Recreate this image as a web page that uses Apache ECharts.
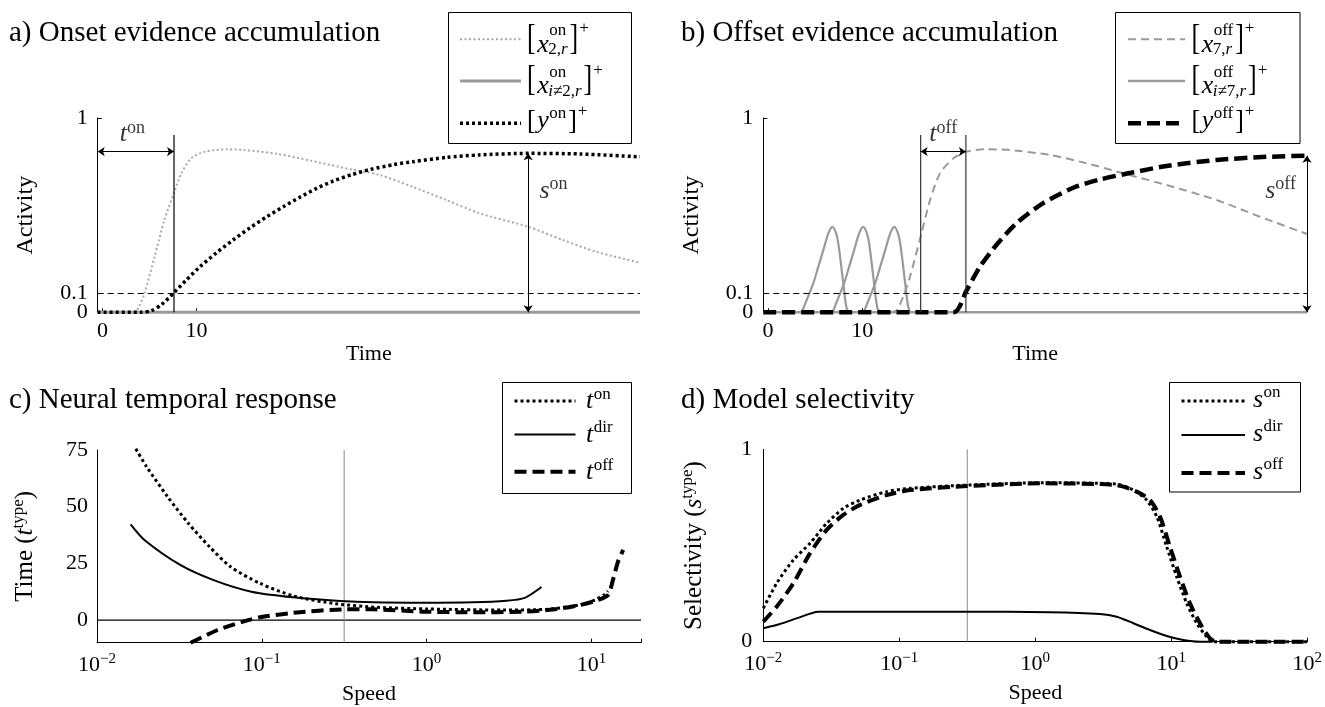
<!DOCTYPE html>
<html>
<head>
<meta charset="utf-8">
<script src="https://cdn.jsdelivr.net/npm/echarts@6.0.0/dist/echarts.min.js"></script>
<style>
html,body{margin:0;padding:0;background:#fff;}
#chart{width:1325px;height:707px;}
</style>
</head>
<body>
<div id="chart"></div>
<script>
// ================= DATA =================
// shared
const threshold = 0.1;
const timeTickValues = [0, 10];
const activityTickValues = [0, 0.1, 1];

// ---- panel a: onset evidence accumulation  [time, activity]
const onsetX2 = [[-0.5,0],[3.4,0],[4.0,0.04],[4.5,0.1],[5.55,0.286],[6.6,0.475],[7.6,0.612],[8.4,0.715],[9.45,0.793],[10.9,0.827],[13.3,0.839],[15.1,0.835],[18.7,0.815],[22.2,0.78],[26.5,0.735],[29.5,0.707],[33,0.646],[36.6,0.578],[40.1,0.51],[45.3,0.44],[49,0.372],[52.5,0.312],[57.2,0.255]];
const onsetOthers = [[-0.5,0],[57.2,0]];
const onsetY = [[-0.5,0],[4.1,0],[5.2,0.008],[6.3,0.04],[7.6,0.1],[8.9,0.165],[10.4,0.235],[12.1,0.305],[13.9,0.372],[15.7,0.435],[17.5,0.492],[19.3,0.545],[21.0,0.592],[22.8,0.638],[24.6,0.676],[26.5,0.708],[28.5,0.735],[31,0.76],[33,0.775],[36.6,0.797],[40.1,0.81],[45.3,0.818],[50.8,0.815],[57.2,0.80]];
const tOnTime = 7.62, onLineTop = 0.912, onArrowLevel = 0.827;
const sOnTime = 45.3, sOnValue = 0.818;
const onLabelPos = [3.2, 0.915];
const sOnLabelPos = [48.0, 0.625];

// ---- panel b: offset evidence accumulation  [time, activity]
const offsetX7 = [[13.0,0],[13.66,0.01],[14.0,0.04],[14.5,0.1],[15.07,0.183],[16.1,0.372],[17.2,0.578],[18.25,0.715],[19.67,0.793],[21.1,0.827],[23.2,0.839],[25.7,0.835],[29.9,0.81],[33.8,0.767],[38.1,0.71],[42.3,0.655],[47.6,0.578],[52.2,0.492],[57.2,0.403]];
const offsetOthers = [[-0.5,0],[57.2,0]];
const offsetBump1 = [[3.58,0],[4.1,0.063],[4.8,0.149],[5.34,0.235],[5.87,0.32],[6.4,0.406],[6.83,0.44],[7.2,0.41],[7.46,0.355],[7.99,0.149],[8.3,0.03],[8.52,0]];
const offsetBump2 = [[6.85,0],[7.37,0.063],[8.07,0.149],[8.61,0.235],[9.14,0.32],[9.67,0.406],[10.1,0.44],[10.47,0.41],[10.73,0.355],[11.26,0.149],[11.57,0.03],[11.79,0]];
const offsetBump3 = [[10.15,0],[10.67,0.063],[11.37,0.149],[11.91,0.235],[12.44,0.32],[12.97,0.406],[13.4,0.44],[13.77,0.41],[14.03,0.355],[14.56,0.149],[14.87,0.03],[15.09,0]];
const offsetY = [[-0.5,0],[19.7,0],[21.1,0.115],[22.5,0.235],[24.3,0.35],[26.4,0.46],[29.2,0.562],[32.4,0.641],[35.2,0.683],[38.1,0.714],[42.3,0.753],[47.6,0.784],[52.9,0.80],[57.2,0.806]];
const tOffStart = 16.2, tOffEnd = 21.0, offLineTop = 0.912, offArrowLevel = 0.827;
const sOffTime = 57.2, sOffValue = 0.806;
const offLabelPos = [18.6, 0.915];
const sOffLabelPos = [54.4, 0.625];

// ---- panel c: neural temporal response  [speed, time]
const respTon = [[0.0172,75.5],[0.0200,67.6],[0.0268,54.4],[0.0359,42.6],[0.0482,32.3],[0.0646,23.5],[0.0973,16.2],[0.156,10.6],[0.28,7.2],[0.50,5.6],[1.0,4.9],[2.92,4.4],[5.25,4.7],[7.35,5.9],[9.44,7.4],[11.9,11.0],[12.6,12.8]];
const respTdir = [[0.016,42.2],[0.0194,35.3],[0.032,24.3],[0.051,17.6],[0.0865,12.5],[0.156,10.0],[0.30,8.4],[0.474,7.8],[0.955,7.6],[1.91,7.8],[3.05,8.5],[3.94,9.8],[4.98,14.6]];
const respToff = [[0.037,-10],[0.054,-4.4],[0.0769,-0.7],[0.0973,1.2],[0.156,3.2],[0.316,4.7],[0.474,4.7],[0.955,3.7],[1.91,3.4],[3.85,3.7],[5.85,4.6],[8.49,6.6],[10.2,8.1],[12.6,11.0],[13.5,17.6],[14.5,25.7],[15.6,30.9]];
const respTicks = [0, 25, 50, 75];
const respZero = [[0.01,0],[20,0]];

// ---- panel d: model selectivity  [speed, selectivity]
const selOn = [[0.01,0.174],[0.01253,0.303],[0.01663,0.425],[0.02203,0.511],[0.02924,0.615],[0.03873,0.693],[0.0514,0.736],[0.0807,0.78],[0.120,0.797],[0.316,0.814],[1.146,0.826],[3.97,0.819],[5.26,0.788],[6.59,0.736],[7.82,0.65],[9.25,0.494],[10.96,0.338],[12.97,0.2],[15.38,0.096],[18.2,0.026],[20.37,0],[100,0]];
const selOff = [[0.01,0.104],[0.01253,0.182],[0.01663,0.303],[0.02203,0.459],[0.02924,0.581],[0.03873,0.659],[0.0514,0.711],[0.0807,0.762],[0.120,0.788],[0.316,0.809],[1.146,0.823],[3.97,0.814],[5.57,0.78],[6.97,0.736],[8.26,0.65],[9.77,0.494],[11.59,0.338],[13.71,0.2],[16.26,0.096],[19.23,0.018],[21.58,0],[100,0]];
const selDir = [[0.01,0.07],[0.01327,0.092],[0.01758,0.121],[0.0254,0.156],[0.316,0.156],[1.28,0.153],[2.99,0.144],[3.97,0.13],[5.26,0.096],[6.97,0.061],[9.25,0.03],[12.25,0.009],[16.26,0],[20,0]];
const selTicks = [0, 1];

const refSpeed = 0.316;

// ================= STYLE / HELPERS =================
const FONT = 'Liberation Serif';
const GRAY = '#9a9a9a';
const GRAY_L = '#a8a8a8';

const measure = document.createElement('canvas').getContext('2d');
function tw(s, size, italic) {
  measure.font = (italic ? 'italic ' : '') + size + 'px "' + FONT + '"';
  return measure.measureText(s).width;
}

function logLabel(v) {
  const e = Math.log10(v), r = Math.round(e);
  if (Math.abs(e - r) > 1e-6) return '';
  return '{b|10}{s|' + (r < 0 ? '\u2212' : '') + Math.abs(r) + '}';
}
const logRich = {
  b: {fontFamily: FONT, fontSize: 22, color: '#000'},
  s: {fontFamily: FONT, fontSize: 15, color: '#000', padding: [0, 0, 12, 0]}
};

function timeXAxis(grid, max) {
  return {
    gridIndex: grid, type: 'value', min: -0.5, max: max,
    axisLine: {show: false, onZero: false},
    axisTick: {show: true, inside: true, length: 4, customValues: timeTickValues, lineStyle: {color: '#000'}},
    axisLabel: {customValues: timeTickValues, fontFamily: FONT, fontSize: 22, color: '#000', margin: 8,
      showMinLabel: true, showMaxLabel: true, hideOverlap: false},
    splitLine: {show: false},
    name: 'Time', nameLocation: 'middle', nameGap: 26,
    nameTextStyle: {fontFamily: FONT, fontSize: 22, color: '#000'}
  };
}
// the 0.1 tick label sits too close to 0 for the axis' own overlap rule,
// so it is printed by the threshold line (same value, same place)
const activityAxisLabels = activityTickValues.filter(v => v !== threshold);
function activityYAxis(grid) {
  return {
    gridIndex: grid, type: 'value', min: 0, max: 1,
    axisLine: {show: true, onZero: false, lineStyle: {color: '#000', width: 1}},
    axisTick: {show: true, inside: true, length: 4, customValues: [1], lineStyle: {color: '#000'}},
    axisLabel: {customValues: activityAxisLabels, fontFamily: FONT, fontSize: 22, color: '#000', margin: 10,
      showMinLabel: true, showMaxLabel: true, hideOverlap: false},
    splitLine: {show: false},
    name: 'Activity', nameLocation: 'middle', nameGap: 60, nameRotate: 90,
    nameTextStyle: {fontFamily: FONT, fontSize: 24, color: '#000'}
  };
}
function speedXAxis(grid, max) {
  return {
    gridIndex: grid, type: 'log', logBase: 10, min: 0.01, max: max,
    axisLine: {show: true, onZero: false, lineStyle: {color: '#000', width: 1}},
    axisTick: {show: true, inside: true, length: 4, lineStyle: {color: '#000'}},
    axisLabel: {formatter: logLabel, rich: logRich, fontFamily: FONT, color: '#000', margin: 9,
      showMinLabel: true, showMaxLabel: true, hideOverlap: false},
    splitLine: {show: false}, minorTick: {show: false},
    name: 'Speed', nameLocation: 'middle', nameGap: 41,
    nameTextStyle: {fontFamily: FONT, fontSize: 22, color: '#000'}
  };
}
const nameRich = {
  n: {fontFamily: FONT, fontSize: 25, color: '#000'},
  i: {fontFamily: FONT, fontSize: 25, fontStyle: 'italic', color: '#000'},
  s: {fontFamily: FONT, fontSize: 17, color: '#000', padding: [0, 0, 13, 0]}
};
function valueYAxis(grid, min, max, ticks, name, gap, margin) {
  return {
    gridIndex: grid, type: 'value', min: min, max: max,
    axisLine: {show: true, onZero: false, lineStyle: {color: '#000', width: 1}},
    axisTick: {show: false},
    axisLabel: {customValues: ticks, fontFamily: FONT, fontSize: 22, color: '#000', margin: margin,
      showMinLabel: true, showMaxLabel: true, hideOverlap: false},
    splitLine: {show: false},
    name: name, nameLocation: 'middle', nameGap: gap, nameRotate: 90,
    nameTextStyle: {rich: nameRich, fontFamily: FONT, fontSize: 25, color: '#000'}
  };
}

function lineSeries(name, idx, data, color, width, dash, z, smooth) {
  return {
    name: name, type: 'line', xAxisIndex: idx, yAxisIndex: idx, data: data,
    symbol: 'none', showSymbol: false, smooth: smooth === undefined ? 0.25 : smooth,
    clip: false, silent: true, z: z || 2, emphasis: {disabled: true},
    lineStyle: {color: color, width: width, type: dash || 'solid', cap: 'butt', join: 'round'}
  };
}
const thresholdLine = {
  silent: true, symbol: ['none', 'none'], emphasis: {disabled: true},
  label: {show: true, position: 'start', distance: 10, formatter: String(threshold),
    fontFamily: FONT, fontSize: 22, color: '#000'},
  lineStyle: {color: '#000', width: 1, type: [6, 4]},
  data: [{yAxis: threshold}]
};
function arrowMarks(pairs) {
  return {
    silent: true, symbol: ['arrow', 'arrow'], symbolSize: 7, label: {show: false}, emphasis: {disabled: true},
    lineStyle: {color: '#000', width: 1, type: 'solid'},
    data: pairs.map(p => [{coord: p[0]}, {coord: p[1]}])
  };
}
const mathRich = {
  i: {fontFamily: FONT, fontSize: 26, fontStyle: 'italic', color: '#000'},
  s: {fontFamily: FONT, fontSize: 18, color: '#000', padding: [0, 0, 13, 0]}
};
function mathPoint(idx, pos, base, sup) {
  return {
    type: 'scatter', xAxisIndex: idx, yAxisIndex: idx, data: [pos], symbolSize: 1, silent: true, z: 6,
    itemStyle: {color: 'rgba(0,0,0,0)'}, emphasis: {disabled: true},
    label: {show: true, position: 'inside', color: '#000', formatter: '{i|' + base + '}{s|' + sup + '}', rich: mathRich}
  };
}

// ---------- legend drawing (graphic) ----------
function T(text, x, y, size, italic, extra) {
  return Object.assign({
    type: 'text', x: x, y: y, silent: true, z: 100,
    style: {text: text, fontFamily: FONT, fontSize: size, fontStyle: italic ? 'italic' : 'normal', fill: '#000', align: 'left', verticalAlign: 'middle'}
  }, extra || {});
}
function bracketExpr(x, y, base, sup, sub) {
  const els = [];
  const hasSub = !!sub;
  const bScale = hasSub ? 1.38 : 1.08;
  let cx = x;
  els.push(T('[', cx, y + (hasSub ? 0 : -2), 26, false, {scaleY: bScale}));
  cx += tw('[', 26) + 1.5;
  els.push(T(base, cx, y + (hasSub ? 5.5 : -2.5), 26, true));
  cx += tw(base, 26, true) + 0.5;
  els.push(T(sup, cx, y + (hasSub ? -8.7 : -9.4), 17, false));
  let w = tw(sup, 17);
  if (hasSub) {
    let sw = 0;
    const rt = sub.map(p => { sw += tw(p[0], 17, p[1]); return '{' + (p[1] ? 'i' : 'u') + '|' + p[0] + '}'; }).join('');
    els.push({type: 'text', x: cx - 1, y: y + 10.7, silent: true, z: 100,
      style: {text: rt, align: 'left', verticalAlign: 'middle', fill: '#000', fontFamily: FONT, fontSize: 17,
        rich: {u: {fontFamily: FONT, fontSize: 17, fill: '#000'}, i: {fontFamily: FONT, fontSize: 17, fontStyle: 'italic', fill: '#000'}}}});
    w = Math.max(w, sw - 1);
  }
  cx += w + 2;
  els.push(T(']', cx, y + (hasSub ? 0 : -2), 26, false, {scaleY: bScale}));
  cx += tw(']', 26) + 1;
  els.push(T('+', cx, y + (hasSub ? -10.8 : -11.5), 17, false));
  return els;
}
function supExpr(x, y, base, sup) {
  return [T(base, x, y + 0.5, 26, true), T(sup, x + tw(base, 26, true) + 0.5, y - 6.5, 17, false)];
}
function legendBox(box, sx1, sx2, tx, rows, expr) {
  const els = [{type: 'rect', silent: true, z: 90, shape: {x: box[0], y: box[1], width: box[2], height: box[3]},
    style: {fill: '#fff', stroke: '#000', lineWidth: 1}}];
  rows.forEach(r => {
    els.push({type: 'line', silent: true, z: 95, shape: {x1: sx1, y1: r.y, x2: sx2, y2: r.y},
      style: {stroke: r.color, lineWidth: r.width, lineDash: r.dash || null, lineCap: 'butt'}});
    els.push(...expr(tx, r.y, r));
  });
  return els;
}

const legendA = legendBox([448.5, 12.5, 183, 131], 460, 521, 527, [
  {y: 39.3, color: GRAY_L, width: 2, dash: [2, 2.5], base: 'x', sup: 'on', sub: [['2,', false], ['r', true]]},
  {y: 81, color: GRAY, width: 3, base: 'x', sup: 'on', sub: [['i', true], ['\u22602,', false], ['r', true]]},
  {y: 123.3, color: '#000', width: 3.5, dash: [3, 3], base: 'y', sup: 'on'}
], (x, y, r) => bracketExpr(x, y, r.base, r.sup, r.sub));
const legendB = legendBox([1115.5, 12.5, 184.5, 131], 1128, 1185, 1191.5, [
  {y: 39.3, color: GRAY, width: 2, dash: [8, 5], base: 'x', sup: 'off', sub: [['7,', false], ['r', true]]},
  {y: 81, color: GRAY, width: 2.5, base: 'x', sup: 'off', sub: [['i', true], ['\u22607,', false], ['r', true]]},
  {y: 123.3, color: '#000', width: 4.5, dash: [13, 6], base: 'y', sup: 'off'}
], (x, y, r) => bracketExpr(x, y, r.base, r.sup, r.sub));
const legendC = legendBox([502.5, 382.5, 129, 111], 514.5, 575.5, 586, [
  {y: 401, color: '#000', width: 3, dash: [3, 3], base: 't', sup: 'on'},
  {y: 434.5, color: '#000', width: 2, base: 't', sup: 'dir'},
  {y: 471.7, color: '#000', width: 4, dash: [12, 6], base: 't', sup: 'off'}
], (x, y, r) => supExpr(x, y, r.base, r.sup));
const legendD = legendBox([1169.5, 382.5, 131, 109.5], 1181.5, 1245, 1253, [
  {y: 401, color: '#000', width: 3, dash: [3, 3], base: 's', sup: 'on'},
  {y: 435, color: '#000', width: 2, base: 's', sup: 'dir'},
  {y: 473, color: '#000', width: 4, dash: [12, 6], base: 's', sup: 'off'}
], (x, y, r) => supExpr(x, y - 1.5, r.base, r.sup));

// ================= OPTION =================
const titleStyle = {fontFamily: FONT, fontSize: 29, fontWeight: 'normal', color: '#000'};
const option = {
  animation: false,
  backgroundColor: '#fff',
  title: [
    {text: 'a) Onset evidence accumulation', left: 9, top: 19, padding: 0, textStyle: titleStyle},
    {text: 'b) Offset evidence accumulation', left: 681, top: 19, padding: 0, textStyle: titleStyle},
    {text: 'c) Neural temporal response', left: 9, top: 386, padding: 0, textStyle: titleStyle},
    {text: 'd) Model selectivity', left: 681, top: 386, padding: 0, textStyle: titleStyle}
  ],
  grid: [
    {left: 97.7, top: 118, width: 542.3, height: 194.3, containLabel: false, outerBoundsMode: 'none'},
    {left: 763.3, top: 118, width: 543.7, height: 194.3, containLabel: false, outerBoundsMode: 'none'},
    {left: 97, top: 450, width: 544, height: 192.7, containLabel: false, outerBoundsMode: 'none'},
    {left: 763.3, top: 449.3, width: 544, height: 192.4, containLabel: false, outerBoundsMode: 'none'}
  ],
  xAxis: [timeXAxis(0, 57.2), timeXAxis(1, 57.2), speedXAxis(2, 20), speedXAxis(3, 100)],
  yAxis: [
    activityYAxis(0), activityYAxis(1),
    valueYAxis(2, -10, 75, respTicks, '{n|Time (}{i|t}{s|type}{n|)}', 57, 9),
    valueYAxis(3, 0, 1, selTicks, '{n|Selectivity (}{i|s}{s|type}{n|)}', 54, 11)
  ],
  series: [
    // panel a
    Object.assign(lineSeries('x_other_on', 0, onsetOthers, GRAY, 3, null, 1, false), {markLine: thresholdLine}),
    lineSeries('x2_on', 0, onsetX2, GRAY_L, 2, [2, 2.5], 2),
    lineSeries('y_on', 0, onsetY, '#000', 3.5, [3, 3], 3),
    Object.assign(lineSeries('t_on_mark', 0, [[tOnTime, 0], [tOnTime, onLineTop]], '#000', 1.2, null, 4, false),
      {markLine: arrowMarks([[[-0.5, onArrowLevel], [tOnTime, onArrowLevel]], [[sOnTime, 0], [sOnTime, sOnValue]]])}),
    mathPoint(0, onLabelPos, 't', 'on'),
    mathPoint(0, sOnLabelPos, 's', 'on'),
    // panel b
    Object.assign(lineSeries('x_other_off', 1, offsetOthers, GRAY, 2.5, null, 1, false), {markLine: thresholdLine}),
    lineSeries('x_other_off_1', 1, offsetBump1, GRAY, 2.2, null, 2, 0.35),
    lineSeries('x_other_off_2', 1, offsetBump2, GRAY, 2.2, null, 2, 0.35),
    lineSeries('x_other_off_3', 1, offsetBump3, GRAY, 2.2, null, 2, 0.35),
    lineSeries('x7_off', 1, offsetX7, GRAY, 2, [8, 5], 2),
    lineSeries('y_off', 1, offsetY, '#000', 4.5, [13, 6], 3),
    lineSeries('t_off_start', 1, [[tOffStart, 0], [tOffStart, offLineTop]], '#333', 1.2, null, 4, false),
    Object.assign(lineSeries('t_off_end', 1, [[tOffEnd, 0], [tOffEnd, offLineTop]], '#333', 1.2, null, 4, false),
      {markLine: arrowMarks([[[tOffStart, offArrowLevel], [tOffEnd, offArrowLevel]], [[sOffTime, 0], [sOffTime, sOffValue]]])}),
    mathPoint(1, offLabelPos, 't', 'off'),
    mathPoint(1, sOffLabelPos, 's', 'off'),
    // panel c
    lineSeries('zero', 2, respZero, '#000', 1.2, null, 1, false),
    lineSeries('ref_c', 2, [[refSpeed, -10], [refSpeed, 75]], '#888', 1, null, 1, false),
    lineSeries('t_dir', 2, respTdir, '#000', 2, null, 2),
    lineSeries('t_off', 2, respToff, '#000', 4, [12, 6], 3),
    lineSeries('t_on', 2, respTon, '#000', 3, [3, 3], 4),
    // panel d
    lineSeries('ref_d', 3, [[refSpeed, 0], [refSpeed, 1]], '#888', 1, null, 1, false),
    lineSeries('s_dir', 3, selDir, '#000', 2, null, 2),
    lineSeries('s_off', 3, selOff, '#000', 4, [12, 6], 3),
    lineSeries('s_on', 3, selOn, '#000', 3, [3, 3], 4)
  ],
  graphic: [].concat(legendA, legendB, legendC, legendD)
};

const chart = echarts.init(document.getElementById('chart'), null, {renderer: 'canvas'});
chart.setOption(option);
</script>
</body>
</html>
